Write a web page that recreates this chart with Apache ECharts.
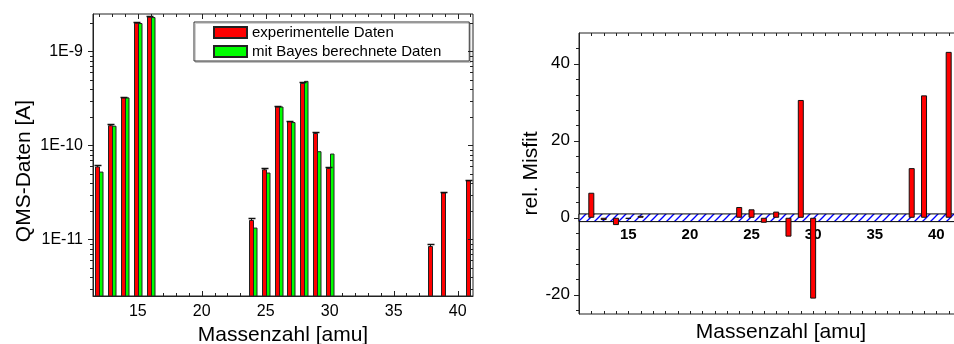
<!DOCTYPE html>
<html><head><meta charset="utf-8">
<script src="https://cdn.jsdelivr.net/npm/echarts@6/dist/echarts.min.js"></script>
<style>html,body{margin:0;padding:0;background:#fff}#c{width:954px;height:344px}</style>
</head><body><div id="c"></div>
<script>
// ---------- data ----------
const masses      = [12, 13, 14, 15, 16, 24, 25, 26, 27, 28, 29, 30, 38, 39, 41];
const expData     = [5.9e-11, 1.62e-10, 3.2e-10, 2.0e-9, 2.32e-9, 1.59e-11, 5.5e-11, 2.56e-10, 1.79e-10, 4.57e-10, 1.34e-10, 5.69e-11, 8.4e-12, 3.12e-11, 4.21e-11];
const expErr      = [2.5e-12, 5e-12, 1e-11, 5e-11, 6e-11, 1.0e-12, 2e-12, 7e-12, 5e-12, 1.5e-11, 4e-12, 2e-12, 5e-13, 1e-12, 1.2e-12];
const bayesData   = [5.2e-11, 1.6e-10, 3.2e-10, 1.98e-9, 2.29e-9, 1.32e-11, 5.08e-11, 2.56e-10, 1.75e-10, 4.8e-10, 8.57e-11, 8.09e-11, null, null, null];
const misfitMasses = [12, 13, 14, 15, 16, 24, 25, 26, 27, 28, 29, 30, 38, 39, 41];
const misfit       = [6.5, -0.6, -1.9, -0.3, 0.5, 2.8, 2.2, -1.3, 1.6, -4.9, 30.6, -21.0, 12.9, 31.8, 43.1];
const seriesNames  = ['experimentelle Daten', 'mit Bayes berechnete Daten'];
const misfitBand   = [-1, 1];

// ---------- axis ranges ----------
const L_XMIN = 11.5, L_XMAX = 41.2, L_YMIN = 2.5e-12, L_YMAX = 2.5e-9;
const R_XMIN = 11, R_XMAX = 42, R_YMIN = -25, R_YMAX = 48;
const R_H = 281;
const zeroOffset = -R_H * (0 - R_YMIN) / (R_YMAX - R_YMIN); // moves the mass axis up to y = 0

const FONT = 'Liberation Sans, Arial, sans-serif';
const AX = '#222';

// tick positions (layout only)
const lxTicks = []; for (let m = 12; m <= 41; m++) lxTicks.push([m, L_YMIN]);
const lyTicks = [];
for (let e = -12; e <= -9; e++) for (let k = 1; k <= 9; k++) {
  const v = k * Math.pow(10, e);
  if (v >= L_YMIN && v <= L_YMAX) lyTicks.push([L_XMIN, v, k === 1 ? 1 : 0]);
}
const rxTicks = []; for (let m = 12; m <= 41; m++) rxTicks.push([m, 0]);
const ryTicks = []; for (let v = -24; v <= 44; v += 4) ryTicks.push([R_XMIN, v]);

// hatch pattern
const pc = document.createElement('canvas'); pc.width = 8; pc.height = 8;
const g = pc.getContext('2d');
g.fillStyle = '#ffffff'; g.fillRect(0, 0, 8, 8);
g.strokeStyle = '#0000ff'; g.lineWidth = 1.3;
g.beginPath(); g.moveTo(0, 8); g.lineTo(8, 0); g.stroke();
g.beginPath(); g.moveTo(-1, 1); g.lineTo(1, -1); g.stroke();
g.beginPath(); g.moveTo(7, 9); g.lineTo(9, 7); g.stroke();

function ln(x1, y1, x2, y2) {
  return { type: 'line', shape: { x1, y1, x2, y2 }, style: { stroke: AX, lineWidth: 1 } };
}

function barItem(offset, width, fill) {
  return function (params, api) {
    const m = api.value(0), v = api.value(1);
    if (v == null || isNaN(v)) return;
    const top = api.coord([m, v]);
    const base = api.coord([m, L_YMIN]);
    const x = Math.round(top[0] + offset) + 0.5;
    return { type: 'rect', shape: { x: x, y: top[1], width: width, height: base[1] - top[1] },
             style: { fill: fill, stroke: '#222', lineWidth: 1 } };
  };
}

const chart = echarts.init(document.getElementById('c'));
chart.setOption({
  animation: false,
  textStyle: { fontFamily: FONT, color: '#000' },
  grid: [
    { left: 93, top: 14, width: 380, height: 282, show: true, borderColor: AX, borderWidth: 1,
      backgroundColor: 'transparent', containLabel: false, outerBoundsMode: 'none' },
    { left: 579, top: 33, width: 382, height: R_H, show: true, borderColor: AX, borderWidth: 1,
      backgroundColor: 'transparent', containLabel: false, outerBoundsMode: 'none' }
  ],
  legend: {
    left: 194, top: 22, orient: 'vertical', data: seriesNames, icon: 'rect',
    itemWidth: 33, itemHeight: 11, itemGap: 4, padding: [3, 28, 2, 19],
    borderColor: '#333', borderWidth: 1, backgroundColor: '#fff',
    shadowColor: 'rgba(0,0,0,0.18)', shadowOffsetX: 1.5, shadowOffsetY: 1.5, shadowBlur: 0,
    selectedMode: false,
    textStyle: { fontSize: 15, color: '#000', fontFamily: FONT }
  },
  xAxis: [
    { gridIndex: 0, type: 'value', min: L_XMIN, max: L_XMAX, splitNumber: 5,
      axisLine: { show: true, onZero: false, lineStyle: { color: AX } }, axisTick: { show: false }, splitLine: { show: false },
      axisLabel: { fontSize: 16, color: '#000', margin: 8, showMinLabel: false, showMaxLabel: false, fontFamily: FONT },
      name: 'Massenzahl [amu]', nameLocation: 'middle', nameGap: 25,
      nameTextStyle: { fontSize: 21, color: '#000', fontFamily: FONT } },
    { gridIndex: 1, type: 'value', min: R_XMIN, max: R_XMAX, splitNumber: 5, position: 'bottom', offset: zeroOffset,
      axisLine: { show: true, onZero: false, lineStyle: { color: '#000' } },
      axisTick: { show: true, inside: false, length: 3, lineStyle: { color: AX } }, splitLine: { show: false },
      axisLabel: { fontSize: 15, fontWeight: 'bold', color: '#000', margin: 10, showMinLabel: false, showMaxLabel: false, fontFamily: FONT },
      name: 'Massenzahl [amu]', nameLocation: 'middle', nameGap: 104,
      nameTextStyle: { fontSize: 21, color: '#000', fontFamily: FONT, padding: [0, 0, 0, 22] } }
  ],
  yAxis: [
    { gridIndex: 0, type: 'log', logBase: 10, min: L_YMIN, max: L_YMAX,
      axisLine: { show: true, lineStyle: { color: AX } }, axisTick: { show: false }, splitLine: { show: false }, minorTick: { show: false },
      axisLabel: { fontSize: 16, color: '#000', margin: 10, showMinLabel: false, showMaxLabel: false, fontFamily: FONT,
        formatter: v => '1E' + Math.round(Math.log10(v)) },
      name: 'QMS-Daten [A]', nameLocation: 'middle', nameGap: 58,
      nameTextStyle: { fontSize: 21, color: '#000', fontFamily: FONT, padding: [0, 32, 0, 0] } },
    { gridIndex: 1, type: 'value', min: R_YMIN, max: R_YMAX, splitNumber: 3,
      axisLine: { show: true, onZero: false, lineStyle: { color: AX } }, axisTick: { show: false }, splitLine: { show: false },
      axisLabel: { fontSize: 17, color: '#000', margin: 9, showMinLabel: false, showMaxLabel: false, fontFamily: FONT },
      name: 'rel. Misfit', nameLocation: 'middle', nameGap: 36,
      nameTextStyle: { fontSize: 21, color: '#000', fontFamily: FONT } }
  ],
  series: [
    { name: seriesNames[0], type: 'custom', xAxisIndex: 0, yAxisIndex: 0, z: 3,
      itemStyle: { color: '#ff0000', borderColor: '#222', borderWidth: 1 },
      data: masses.map((m, i) => [m, expData[i]]),
      renderItem: barItem(-4, 4, '#ff0000') },
    { name: seriesNames[1], type: 'custom', xAxisIndex: 0, yAxisIndex: 0, z: 3,
      itemStyle: { color: '#00ff00', borderColor: '#222', borderWidth: 1 },
      data: masses.map((m, i) => [m, bayesData[i]]).filter(d => d[1] != null),
      renderItem: barItem(0, 3.5, '#00ff00') },
    { name: 'err', type: 'custom', xAxisIndex: 0, yAxisIndex: 0, z: 4, silent: true,
      data: masses.map((m, i) => [m, expData[i], expErr[i]]),
      renderItem: function (params, api) {
        const m = api.value(0), v = api.value(1), e = api.value(2);
        const p0 = api.coord([m, v]), p1 = api.coord([m, v + e]);
        const cx = Math.round(p0[0] - 2) + 0.5;
        const y1 = Math.round(p1[1]) + 0.5;
        return { type: 'group', children: [
          { type: 'line', shape: { x1: cx, y1: p0[1], x2: cx, y2: y1 }, style: { stroke: '#111', lineWidth: 1 } },
          { type: 'line', shape: { x1: cx - 3, y1: y1, x2: cx + 4, y2: y1 }, style: { stroke: '#111', lineWidth: 1.5 } }
        ] };
      } },
    { name: 'lxt', type: 'custom', xAxisIndex: 0, yAxisIndex: 0, silent: true, z: 5, data: lxTicks,
      renderItem: function (params, api) {
        const m = api.value(0); const cs = params.coordSys;
        const x = Math.round(api.coord([m, L_YMIN])[0]) + 0.5;
        const len = (m % 5 === 0) ? 5 : 3;
        return { type: 'group', children: [
          ln(x, cs.y + cs.height, x, cs.y + cs.height - len), ln(x, cs.y, x, cs.y + len) ] };
      } },
    { name: 'lyt', type: 'custom', xAxisIndex: 0, yAxisIndex: 0, silent: true, z: 5, data: lyTicks,
      renderItem: function (params, api) {
        const v = api.value(1), major = api.value(2); const cs = params.coordSys;
        const y = Math.round(api.coord([L_XMIN, v])[1]) + 0.5;
        const len = major ? 5 : 3;
        return { type: 'group', children: [
          ln(cs.x - len, y, cs.x, y), ln(cs.x + cs.width - len, y, cs.x + cs.width, y) ] };
      } },
    { name: 'Misfit', type: 'bar', xAxisIndex: 1, yAxisIndex: 1, z: 3, barWidth: 6,
      itemStyle: { color: '#ff0000', borderColor: '#111', borderWidth: 1 },
      data: misfitMasses.map((m, i) => [m, misfit[i]]),
      markArea: { silent: true,
        itemStyle: { color: { image: pc, repeat: 'repeat' }, opacity: 1, borderColor: '#000', borderWidth: 1 },
        data: [[{ yAxis: misfitBand[1] }, { yAxis: misfitBand[0] }]] } },
    { name: 'rxt', type: 'custom', xAxisIndex: 1, yAxisIndex: 1, silent: true, z: 5, data: rxTicks,
      renderItem: function (params, api) {
        const m = api.value(0); const cs = params.coordSys;
        const x = Math.round(api.coord([m, 0])[0]) + 0.5;
        return { type: 'group', children: [
          ln(x, cs.y + cs.height, x, cs.y + cs.height - 3), ln(x, cs.y, x, cs.y + 3) ] };
      } },
    { name: 'ryt', type: 'custom', xAxisIndex: 1, yAxisIndex: 1, silent: true, z: 5, data: ryTicks,
      renderItem: function (params, api) {
        const v = api.value(1); const cs = params.coordSys;
        const y = Math.round(api.coord([R_XMIN, v])[1]) + 0.5;
        const len = (v % 20 === 0) ? 5 : 3;
        return { type: 'group', children: [ ln(cs.x - len, y, cs.x, y) ] };
      } }
  ]
});
</script></body></html>
